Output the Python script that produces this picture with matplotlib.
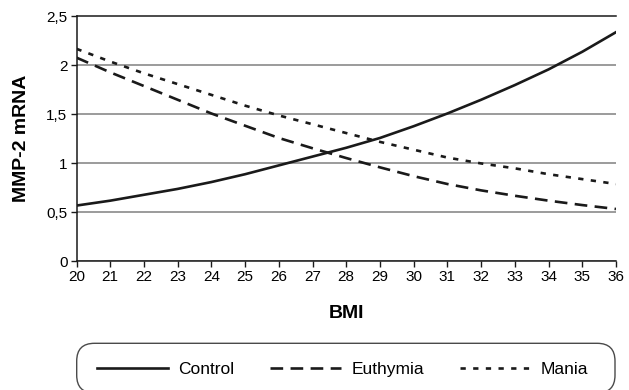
import matplotlib
matplotlib.use("Agg")
import matplotlib.pyplot as plt
from matplotlib.patches import FancyBboxPatch

plt.rcParams['font.family'] = ['Liberation Sans', 'DejaVu Sans']

bmi = list(range(20, 37))
control = [0.57, 0.62, 0.68, 0.74, 0.81, 0.89, 0.98, 1.07, 1.16, 1.26, 1.38,
           1.51, 1.65, 1.80, 1.96, 2.14, 2.34]
euthymia = [2.08, 1.93, 1.79, 1.65, 1.51, 1.385, 1.26, 1.155, 1.055, 0.96, 0.87,
            0.79, 0.725, 0.67, 0.62, 0.575, 0.535]
mania = [2.17, 2.04, 1.92, 1.81, 1.70, 1.59, 1.49, 1.40, 1.31, 1.22, 1.14,
         1.06, 1.00, 0.95, 0.89, 0.84, 0.79]
yticks = [0, 0.5, 1, 1.5, 2, 2.5]
yticklabels = ['0', '0,5', '1', '1,5', '2', '2,5']
series_names = ['Control', 'Euthymia', 'Mania']

W, H = 629, 390
ax_l, ax_r, ax_t, ax_b = 76.5, 616, 16.5, 261.4

fig = plt.figure(figsize=(W/100, H/100), dpi=100)
ax = fig.add_axes([ax_l/W, 1-ax_b/H, (ax_r-ax_l)/W, (ax_b-ax_t)/H])

ink = '#1a1a1a'
ax.plot(bmi, control, color=ink, lw=1.9, linestyle='-', label=series_names[0])
ax.plot(bmi, euthymia, color=ink, lw=1.9, linestyle=(0, (4.8, 2.8)), label=series_names[1])
ax.plot(bmi, mania, color=ink, lw=1.9, linestyle=(0, (2.0, 2.8)), label=series_names[2])

ax.set_xlim(20, 36)
ax.set_ylim(0, 2.5)
ax.set_xticks(bmi)
ax.set_xticklabels([str(b) for b in bmi], fontsize=11)
ax.set_yticks(yticks)
ax.set_yticklabels(yticklabels, fontsize=11)
ax.yaxis.grid(True, color='#8a8a8a', lw=1.2)
ax.set_axisbelow(True)
for s in ['left', 'bottom', 'top']:
    ax.spines[s].set_color(ink)
    ax.spines[s].set_linewidth(1.1)
ax.spines['right'].set_visible(False)
ax.tick_params(direction='out', length=4, width=1.0, color=ink, pad=2.5)

fig.text(21.7/W, 1-138.5/H, 'MMP-2 mRNA', fontsize=14, fontweight='bold',
         rotation=90, ha='center', va='center')
fig.text((ax_l+ax_r)/2/W, 1-313/H, 'BMI', fontsize=14, fontweight='bold',
         ha='center', va='center')

# legend frame: rounded box spanning the axes width
box_l, box_r, box_t, box_b = 76.7, 615, 343.3, 393
rad = 11
box = FancyBboxPatch((box_l/W, 1-box_b/H), (box_r-box_l)/W, (box_b-box_t)/H,
                     boxstyle='round,pad=0,rounding_size=%f' % (rad/H),
                     mutation_aspect=W/H, transform=fig.transFigure,
                     facecolor='white', edgecolor='#4a4a4a', lw=1.0, zorder=1)
fig.patches.append(box)

leg = fig.legend(loc='center left', bbox_to_anchor=(97/W, 1-369.3/H),
                 borderaxespad=0, ncol=3, frameon=False,
                 fontsize=12.5, handlelength=4.1, handletextpad=0.57,
                 columnspacing=2.07, borderpad=0.0)
leg.set_zorder(3)

fig.savefig('out.png', dpi=100)
